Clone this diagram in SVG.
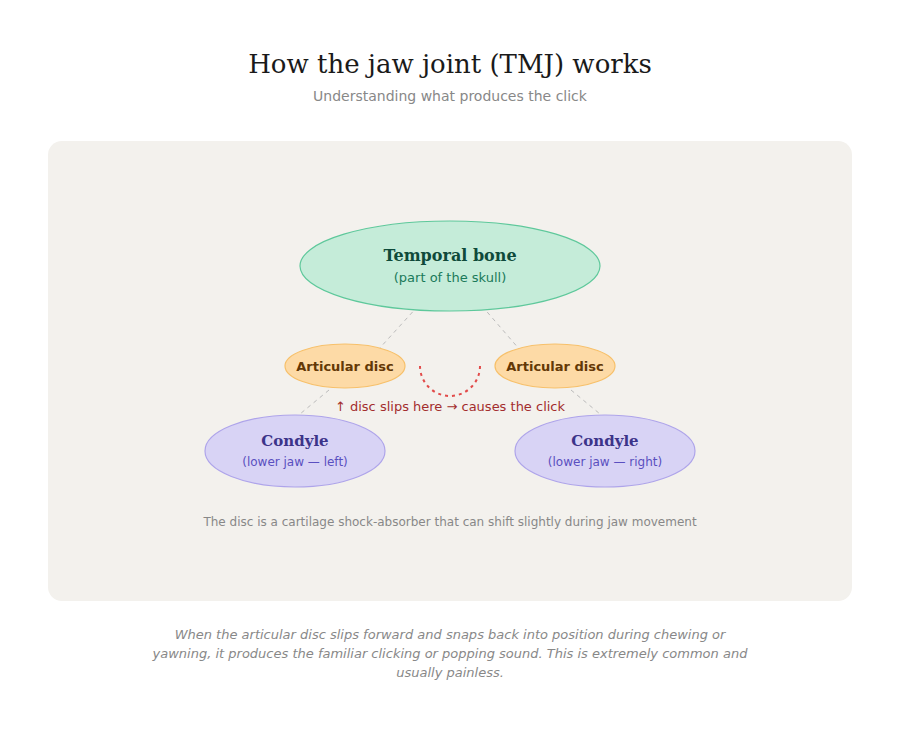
<svg xmlns="http://www.w3.org/2000/svg" width="900" height="730" viewBox="0 0 900 730">
<style>
.s{font-family:"DejaVu Sans",sans-serif}
.f{font-family:"DejaVu Serif",serif;font-weight:bold}
.c{stroke:#bbb;stroke-width:1;stroke-dasharray:4 4;fill:none}
</style>
<rect width="900" height="730" fill="#fff"/>
<text x="450" y="73" text-anchor="middle" font-family="DejaVu Serif,serif" font-size="26" fill="#1a1a1a">How the jaw joint (TMJ) works</text>
<text x="450" y="101" text-anchor="middle" class="s" font-size="14" fill="#888">Understanding what produces the click</text>
<rect x="48" y="141" width="804" height="460" rx="14" fill="#f3f1ed"/>
<g id="connectors">
<line class="c" x1="418" y1="306" x2="378" y2="350"/>
<line class="c" x1="482" y1="306" x2="520" y2="350"/>
<line class="c" x1="329" y1="390" x2="300" y2="414"/>
<line class="c" x1="571" y1="390" x2="600" y2="414"/>
<path d="M420,366 A30,30 0 0,0 480,366" fill="none" stroke="#e24b4a" stroke-width="2" stroke-dasharray="3 4"/>
</g>
<g id="temporal">
<ellipse cx="450" cy="266" rx="150" ry="45" fill="#c5ecd9" stroke="#5ec89b" stroke-width="1.2"/>
<text x="450" y="261" text-anchor="middle" class="f" font-size="16" fill="#0f4a3a">Temporal bone</text>
<text x="450" y="282" text-anchor="middle" class="s" font-size="13" fill="#1a7a5a">(part of the skull)</text>
</g>
<g id="disc-left">
<ellipse cx="345" cy="366" rx="60" ry="22" fill="#fddaa6" stroke="#f7c06a" stroke-width="1.2"/>
<text x="345" y="371" text-anchor="middle" class="s" font-size="13" font-weight="bold" fill="#633806">Articular disc</text>
</g>
<g id="disc-right">
<ellipse cx="555" cy="366" rx="60" ry="22" fill="#fddaa6" stroke="#f7c06a" stroke-width="1.2"/>
<text x="555" y="371" text-anchor="middle" class="s" font-size="13" font-weight="bold" fill="#633806">Articular disc</text>
</g>
<text x="450" y="411" text-anchor="middle" class="s" font-size="13" fill="#a32d2d">↑ disc slips here → causes the click</text>
<g id="condyle-left">
<ellipse cx="295" cy="451" rx="90" ry="36" fill="#d8d3f5" stroke="#aea4ea" stroke-width="1.2"/>
<text x="295" y="446" text-anchor="middle" class="f" font-size="15" fill="#3c3489">Condyle</text>
<text x="295" y="466" text-anchor="middle" class="s" font-size="12" fill="#5a4fc0">(lower jaw — left)</text>
</g>
<g id="condyle-right">
<ellipse cx="605" cy="451" rx="90" ry="36" fill="#d8d3f5" stroke="#aea4ea" stroke-width="1.2"/>
<text x="605" y="446" text-anchor="middle" class="f" font-size="15" fill="#3c3489">Condyle</text>
<text x="605" y="466" text-anchor="middle" class="s" font-size="12" fill="#5a4fc0">(lower jaw — right)</text>
</g>
<text x="450" y="526" text-anchor="middle" class="s" font-size="12" fill="#888">The disc is a cartilage shock-absorber that can shift slightly during jaw movement</text>
<g class="s" font-size="13" font-style="italic" fill="#888" text-anchor="middle">
<text x="450" y="639">When the articular disc slips forward and snaps back into position during chewing or</text>
<text x="450" y="658">yawning, it produces the familiar clicking or popping sound. This is extremely common and</text>
<text x="450" y="677">usually painless.</text>
</g>
</svg>
